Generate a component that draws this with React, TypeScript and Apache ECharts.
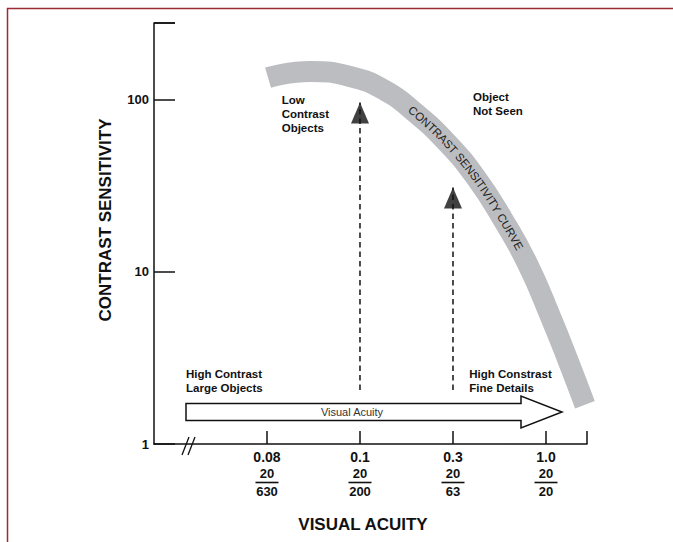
import React, { useEffect, useRef } from "react";
import * as echarts from "echarts";

// ---- data ----
const acuityLabels = ["0.08", "0.1", "0.3", "1.0"];
const snellenNum = ["20", "20", "20", "20"];
const snellenDen = ["630", "200", "63", "20"];
const sensitivityLabels = [1, 10, 100];

// contrast sensitivity curve (x = position on acuity scale, 0 = 0.08 ... 3 = 1.0)
const curveX = [0.011, 0.462, 0.892, 1.269, 1.591, 1.935, 2.247, 2.538, 2.806, 3.054, 3.247, 3.419];
const curveY = [134, 145.5, 136, 112.8, 84, 56.2, 35.2, 20.1, 11, 5.4, 2.96, 1.69];

// dashed upward arrows
const arrowX = [1, 2];
const arrowFrom = [2.06, 2.06];
const arrowTo = [96, 30.8];

const xMin = -1.215;
const xMax = 3.441;
const yMin = 1;
const yMax = 278;
const curveTextStartX = 1.527;
const curveText = "CONTRAST SENSITIVITY CURVE";

const FONT = '"Liberation Sans", Arial, Helvetica, sans-serif';
const INK = "#111";

export default function App() {
  const ref = useRef<HTMLDivElement>(null);

  useEffect(() => {
    document.body.style.margin = "0";
    const chart = echarts.init(ref.current!, null, { renderer: "svg" });

    const series: any[] = [
      {
        type: "line",
        data: curveX.map((x, i) => [x, curveY[i]]),
        smooth: true,
        symbol: "none",
        lineStyle: { color: "#bcbdc0", width: 21, cap: "butt" },
        z: 1,
      },
    ];
    arrowX.forEach((x, i) => {
      series.push({
        type: "line",
        data: [
          [x, arrowFrom[i]],
          [x, arrowTo[i]],
        ],
        symbol: "none",
        lineStyle: { color: INK, width: 1.5, type: [5.5, 4] },
        z: 3,
      });
    });
    series.push({
      type: "scatter",
      data: arrowX.map((x, i) => [x, arrowTo[i]]),
      symbol: "triangle",
      symbolSize: [18, 21],
      symbolOffset: [0, 10.5],
      itemStyle: { color: INK },
      z: 4,
    });

    chart.setOption({
      animation: false,
      grid: { left: 154, top: 23, width: 433, height: 421, containLabel: false },
      xAxis: {
        type: "value",
        min: xMin,
        max: xMax,
        splitLine: { show: false },
        axisLine: { onZero: false, lineStyle: { color: INK, width: 1.5 } },
        axisTick: {
          inside: true,
          length: 13,
          lineStyle: { color: INK, width: 1.5 },
          customValues: [0, 1, 2, 3, xMax],
        },
        axisLabel: {
          customValues: [0, 1, 2, 3],
          margin: 3,
          color: INK,
          formatter: (v: number) => {
            const i = Math.round(v);
            return `{a|${acuityLabels[i]}}\n{b|${snellenNum[i]}}\n{bar|\u00a0}\n{b|${snellenDen[i]}}`;
          },
          rich: {
            a: { fontSize: 14, fontWeight: "bold", fontFamily: FONT, color: INK, lineHeight: 19 },
            b: { fontSize: 13, fontWeight: "bold", fontFamily: FONT, color: INK, lineHeight: 15 },
            bar: { width: 23, height: 1.6, lineHeight: 3, fontSize: 1, backgroundColor: INK },
          },
        },
      },
      yAxis: {
        type: "log",
        logBase: 10,
        min: yMin,
        max: yMax,
        splitLine: { show: false },
        axisLine: { onZero: false, lineStyle: { color: INK, width: 1.5 } },
        axisTick: {
          inside: true,
          length: 21,
          lineStyle: { color: INK, width: 1.5 },
          customValues: [...sensitivityLabels, yMax],
        },
        axisLabel: {
          customValues: sensitivityLabels,
          margin: 5,
          color: INK,
          fontSize: 13,
          fontWeight: "bold",
          fontFamily: FONT,
          formatter: (v: number) => String(Math.round(v)),
        },
      },
      series,
    });

    // ---- annotations ----
    const toPx = (x: number, y: number) =>
      chart.convertToPixel({ gridIndex: 0 }, [x, y]) as number[];

    // curve path in pixels (Catmull-Rom sampling) for curved text
    const pts = curveX.map((x, i) => toPx(x, curveY[i]));
    const samples: number[][] = [];
    for (let i = 0; i < pts.length - 1; i++) {
      const p0 = pts[Math.max(0, i - 1)];
      const p1 = pts[i];
      const p2 = pts[i + 1];
      const p3 = pts[Math.min(pts.length - 1, i + 2)];
      for (let k = 0; k < 30; k++) {
        const t = k / 30;
        const t2 = t * t;
        const t3 = t2 * t;
        const f = (a: number, b: number, c: number, d: number) =>
          0.5 * (2 * b + (-a + c) * t + (2 * a - 5 * b + 4 * c - d) * t2 + (-a + 3 * b - 3 * c + d) * t3);
        samples.push([f(p0[0], p1[0], p2[0], p3[0]), f(p0[1], p1[1], p2[1], p3[1])]);
      }
    }
    samples.push(pts[pts.length - 1]);
    const cum = [0];
    for (let i = 1; i < samples.length; i++) {
      cum.push(cum[i - 1] + Math.hypot(samples[i][0] - samples[i - 1][0], samples[i][1] - samples[i - 1][1]));
    }
    const at = (s: number) => {
      let i = 1;
      while (i < cum.length - 1 && cum[i] < s) i++;
      const a = samples[i - 1];
      const b = samples[i];
      const seg = cum[i] - cum[i - 1] || 1;
      const t = (s - cum[i - 1]) / seg;
      return { x: a[0] + (b[0] - a[0]) * t, y: a[1] + (b[1] - a[1]) * t, ang: Math.atan2(b[1] - a[1], b[0] - a[0]) };
    };
    const startPx = toPx(curveTextStartX, 10)[0];
    let sStart = 0;
    for (let i = 0; i < samples.length; i++) {
      if (samples[i][0] >= startPx) {
        sStart = cum[i];
        break;
      }
    }
    const charSize = 11.5;
    const spacing = 0;
    const ctx = document.createElement("canvas").getContext("2d")!;
    ctx.font = `${charSize}px ${FONT}`;
    const widths = curveText.split("").map((c) => ctx.measureText(c).width + spacing);
    let s = sStart;
    const curveChars: any[] = [];
    curveText.split("").forEach((c, i) => {
      const p = at(s + widths[i] / 2);
      s += widths[i];
      if (c === " ") return;
      curveChars.push({
        type: "text",
        x: p.x,
        y: p.y,
        rotation: -p.ang,
        z: 10,
        style: {
          text: c,
          fill: "#222",
          fontSize: charSize,
          fontFamily: FONT,
          align: "center",
          verticalAlign: "middle",
        },
      });
    });

    const topPx = toPx(xMin, yMax);
    const originPx = toPx(xMin, yMin);
    const bold = (text: string, x: number, y: number) => ({
      type: "text",
      x,
      y,
      z: 10,
      style: {
        text,
        fill: INK,
        fontSize: 11.5,
        fontWeight: "bold",
        fontFamily: FONT,
        lineHeight: 14,
        align: "left",
        verticalAlign: "top",
      },
    });

    const ay = 412;
    chart.setOption({
      graphic: [
        // frame
        { type: "line", shape: { x1: 7, y1: 8.5, x2: 673, y2: 8.5 }, style: { stroke: "#9e2a33", lineWidth: 1.5 } },
        { type: "line", shape: { x1: 7.5, y1: 8, x2: 7.5, y2: 542 }, style: { stroke: "#9e2a33", lineWidth: 1.5 } },
        // top cap of y axis
        {
          type: "line",
          shape: { x1: topPx[0], y1: topPx[1], x2: topPx[0] + 21, y2: topPx[1] },
          style: { stroke: INK, lineWidth: 1.5 },
        },
        // axis break
        {
          type: "line",
          shape: { x1: originPx[0] + 28, y1: originPx[1] + 11, x2: originPx[0] + 35, y2: originPx[1] - 7 },
          style: { stroke: INK, lineWidth: 1.3 },
        },
        {
          type: "line",
          shape: { x1: originPx[0] + 34, y1: originPx[1] + 11, x2: originPx[0] + 41, y2: originPx[1] - 7 },
          style: { stroke: INK, lineWidth: 1.3 },
        },
        // big hollow arrow
        {
          type: "polygon",
          z: 5,
          shape: {
            points: [
              [186, ay - 8.5],
              [521, ay - 8.5],
              [521, ay - 16],
              [562, ay],
              [521, ay + 16],
              [521, ay + 8.5],
              [186, ay + 8.5],
            ],
          },
          style: { fill: "#fff", stroke: INK, lineWidth: 1.5 },
        },
        {
          type: "text",
          x: 352,
          y: ay,
          z: 6,
          style: {
            text: "Visual Acuity",
            fill: "#333",
            fontSize: 11,
            fontFamily: FONT,
            align: "center",
            verticalAlign: "middle",
          },
        },
        bold("Low\nContrast\nObjects", 281.7, 93),
        bold("Object\nNot Seen", 473, 89.7),
        bold("High Contrast\nLarge Objects", 186, 367),
        bold("High Constrast\nFine Details", 469.3, 367),
        // axis names
        {
          type: "text",
          x: 105,
          y: 220,
          rotation: Math.PI / 2,
          style: {
            text: "CONTRAST SENSITIVITY",
            fill: INK,
            fontSize: 17,
            fontWeight: "bold",
            fontFamily: FONT,
            align: "center",
            verticalAlign: "middle",
          },
        },
        {
          type: "text",
          x: 363,
          y: 524,
          style: {
            text: "VISUAL ACUITY",
            fill: INK,
            fontSize: 17,
            fontWeight: "bold",
            fontFamily: FONT,
            align: "center",
            verticalAlign: "middle",
          },
        },
        ...curveChars,
      ],
    });

    return () => chart.dispose();
  }, []);

  return (
    <div
      ref={ref}
      style={{ position: "absolute", left: 0, top: 0, width: 673, height: 542, background: "#fff" }}
    />
  );
}
